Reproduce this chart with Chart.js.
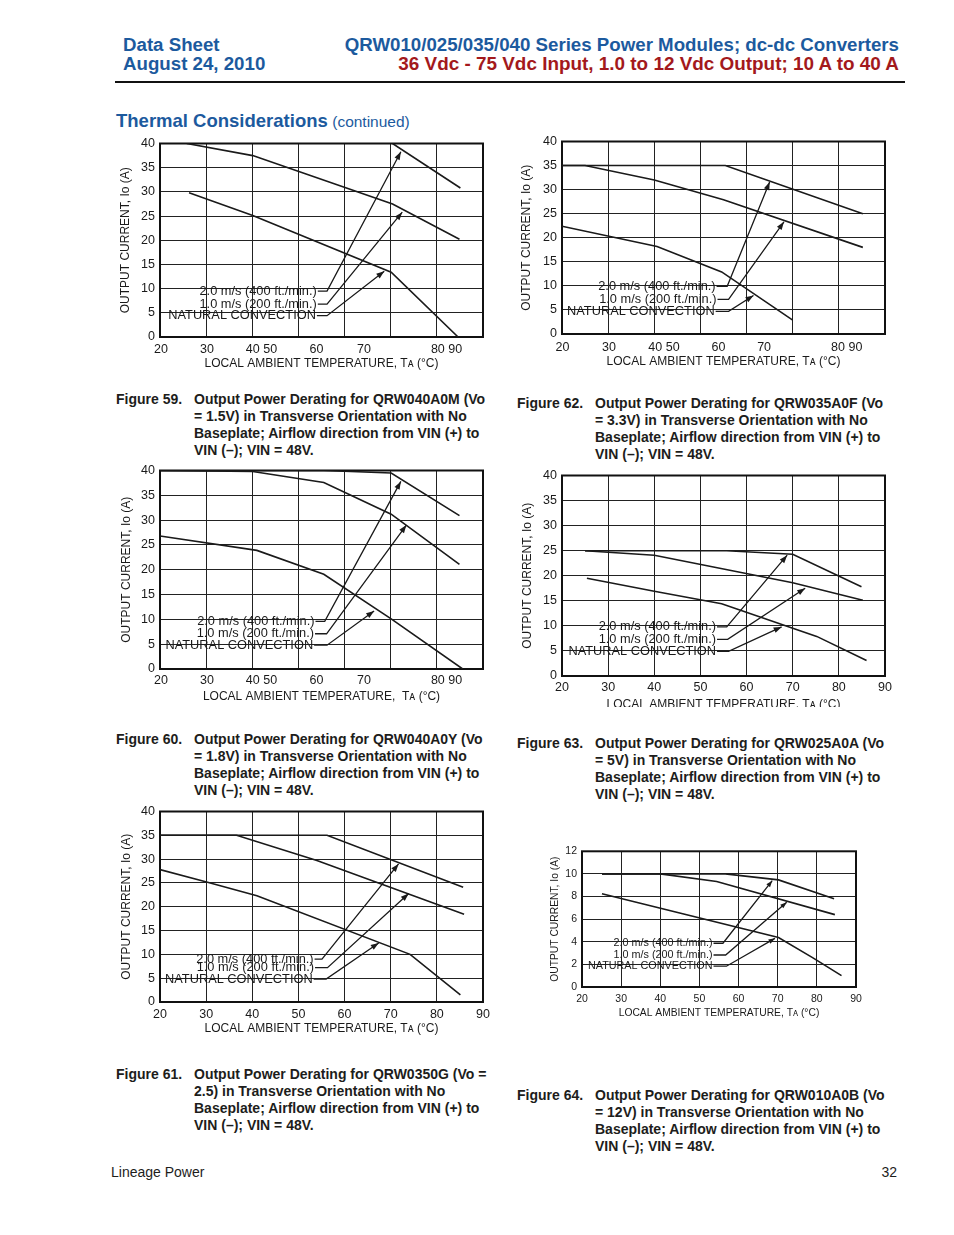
<!DOCTYPE html>
<html>
<head>
<meta charset="utf-8">
<script src="https://cdn.jsdelivr.net/npm/chart.js@4.4.1/dist/chart.umd.min.js"></script>
<style>
  body { margin: 0; background: #fff; }
  #page { position: relative; width: 954px; height: 1235px; overflow: hidden;
          font-family: "Liberation Sans", Arial, Helvetica, sans-serif; color: #1d1d1b; }
  .t { position: absolute; white-space: pre; }
  .hd { font-weight: bold; font-size: 18.7px; line-height: 19px; color: #1c5a9e; }
  .red { color: #a3191c; font-size: 18.9px; }
  .cap { position: absolute; font-weight: bold; font-size: 14px; line-height: 17px; white-space: pre; }
  .cap .b { position: absolute; left: 78px; top: 0; }
  .chartbox { position: absolute; overflow: hidden; }
  .chartbox canvas { display: block; }
</style>
</head>
<body>
<div id="page">
  <div class="t hd" style="left:123px;top:35px;">Data Sheet
August 24, 2010</div>
  <div class="t hd" style="right:55px;top:35px;text-align:right;">QRW010/025/035/040 Series Power Modules; dc-dc Converters
<span class="red">36 Vdc - 75 Vdc Input, 1.0 to 12 Vdc Output; 10 A to 40 A</span></div>
  <div style="position:absolute;left:115px;top:81px;width:790px;height:2px;background:#111;"></div>
  <div class="t" style="left:116px;top:111px;line-height:20px;color:#1c5a9e;"><b style="font-size:18.5px;">Thermal Considerations</b> <span style="font-size:15.5px;">(continued)</span></div>

  <div class="cap" style="left:116px;top:391px;">Figure 59.<div class="b">Output Power Derating for QRW040A0M (Vo
= 1.5V) in Transverse Orientation with No
Baseplate; Airflow direction from VIN (+) to
VIN (–); VIN = 48V.</div></div>
  <div class="cap" style="left:517px;top:395px;">Figure 62.<div class="b">Output Power Derating for QRW035A0F (Vo
= 3.3V) in Transverse Orientation with No
Baseplate; Airflow direction from VIN (+) to
VIN (–); VIN = 48V.</div></div>
  <div class="cap" style="left:116px;top:731px;">Figure 60.<div class="b">Output Power Derating for QRW040A0Y (Vo
= 1.8V) in Transverse Orientation with No
Baseplate; Airflow direction from VIN (+) to
VIN (–); VIN = 48V.</div></div>
  <div class="cap" style="left:517px;top:735px;">Figure 63.<div class="b">Output Power Derating for QRW025A0A (Vo
= 5V) in Transverse Orientation with No
Baseplate; Airflow direction from VIN (+) to
VIN (–); VIN = 48V.</div></div>
  <div class="cap" style="left:116px;top:1066px;">Figure 61.<div class="b">Output Power Derating for QRW0350G (Vo =
2.5) in Transverse Orientation with No
Baseplate; Airflow direction from VIN (+) to
VIN (–); VIN = 48V.</div></div>
  <div class="cap" style="left:517px;top:1087px;">Figure 64.<div class="b">Output Power Derating for QRW010A0B (Vo
= 12V) in Transverse Orientation with No
Baseplate; Airflow direction from VIN (+) to
VIN (–); VIN = 48V.</div></div>

  <div class="t" style="left:111px;top:1164px;font-size:14px;line-height:16px;">Lineage Power</div>
  <div class="t" style="right:57px;top:1164px;font-size:14px;line-height:16px;">32</div>
</div>

<script>
// tick labels
const tempTicksOdd = [20.2, 30.2, 42, 53.9, 64.2, 82.1];
const tempTicks62 = [20.1, 30.2, 42.1, 53.9, 63.8, 81.7];
const tempLabelsOdd = ['20', '30', '40 50', '60', '70', '80 90'];
const tempTicks = [20, 30, 40, 50, 60, 70, 80, 90];
const tempLabels = ['20', '30', '40', '50', '60', '70', '80', '90'];
const airflowLabels = ['2.0 m/s (400 ft./min.)', '1.0 m/s (200 ft./min.)', 'NATURAL CONVECTION'];

// derating curves: [ambient temp °C, output current A]
const fig59_2ms = [[70.4, 40], [85.1, 30.8]];
const fig59_1ms = [[25.8, 40], [40.1, 37.5], [70.4, 27.5], [84.9, 20.2]];
const fig59_nat = [[26.3, 29.8], [40.1, 25.1], [70.1, 13.4], [84.6, 0]];

const fig62_2ms = [[20, 35], [55.4, 35], [85.2, 25.0]];
const fig62_1ms = [[20, 35], [25, 35], [40, 32], [55, 27.9], [85.2, 18.0]];
const fig62_nat = [[20, 22.4], [40.6, 18.2], [54.6, 12.9], [70, 2.9]];

const fig60_2ms = [[20, 40], [55.5, 40], [70.1, 39.5], [84.9, 30.9]];
const fig60_1ms = [[20, 40], [40.1, 39.8], [55.5, 37.6], [70.1, 31.2], [84.9, 21.1]];
const fig60_nat = [[20, 26.8], [41, 23.9], [55.5, 19.1], [70.1, 10.1], [85.6, 0]];

const fig63_2ms = [[25, 25], [55.7, 25], [70, 24.3], [84.9, 17.8]];
const fig63_1ms = [[25, 25], [40, 24.1], [70, 18.6], [85.2, 15.1]];
const fig63_nat = [[25.4, 19.5], [40, 16.9], [54.6, 14.4], [75.2, 7.9], [86, 3.1]];

const fig61_2ms = [[20, 35], [56.2, 35], [85.7, 24.1]];
const fig61_1ms = [[20, 35], [36.6, 35], [54, 29.7], [85.9, 18.4]];
const fig61_nat = [[20, 27.8], [30.1, 25.2], [41, 22.3], [74.2, 10.0], [85.1, 1.5]];

const fig64_2ms = [[25.1, 10], [56.6, 10], [70.2, 9.47], [84.4, 7.8]];
const fig64_1ms = [[25.1, 10], [40, 10], [54.4, 9.33], [84.6, 6.4]];
const fig64_nat = [[25.1, 8.24], [70.2, 4.37], [78.9, 2.6], [86.3, 1.0]];

// leader arrows from the airflow labels: label end, corner, arrow tip
const lead59 = [[[54.2, 9.5], [56.2, 9.5], [72.2, 38.3]], [[54.2, 6.8], [56.2, 6.8], [72.5, 25.8]], [[54.0, 4.4], [56.2, 4.4], [68.6, 13.6]]];
const lead62 = [[[53.5, 9.9], [55.8, 9.9], [65, 31.6]], [[53.7, 7.2], [56.1, 7.2], [68.1, 23.3]], [[53.3, 4.7], [56.1, 4.7], [61.5, 8.0]]];
const lead60 = [[[53.7, 9.6], [55.7, 9.6], [72.2, 37.8]], [[53.6, 7.1], [56.1, 7.1], [73.4, 29.0]], [[53.4, 4.8], [56.2, 4.8], [66.4, 11.7]]];
const lead63 = [[[53.6, 9.8], [55.7, 9.8], [68.8, 24.1]], [[53.6, 7.3], [55.9, 7.3], [72.7, 17.5]], [[53.6, 4.9], [56.1, 4.9], [67.6, 9.8]]];
const lead61 = [[[53.5, 9.0], [55.1, 9.0], [71.7, 29.0]], [[53.6, 7.2], [56.3, 7.2], [73.9, 22.8]], [[53.3, 4.8], [56.0, 4.8], [67.4, 12.4]]];
const lead64 = [[[53.6, 3.87], [56, 3.87], [68.6, 9.4]], [[53.6, 2.83], [56.7, 2.83], [72.3, 7.5]], [[53.6, 1.84], [56.9, 1.84], [69.3, 4.3]]];

const INK = '#1a1a1a';
const FONT = "'Liberation Sans', Arial, 'DejaVu Sans', sans-serif";
Chart.defaults.font.family = FONT;
Chart.defaults.color = INK;

const TA = 'LOCAL AMBIENT TEMPERATURE, Tᴀ (°C)';
const big = { tick: 12.5, title: 12, note: 12.8, arrow: 8 };
const small = { tick: 10.5, title: 10.3, note: 10.8, arrow: 6.5 };

const figs = [
  { box: [160, 140, 483, 337], yMax: 40, yStep: 5, curves: [fig59_2ms, fig59_1ms, fig59_nat], leads: lead59,
    xt: tempTicksOdd, xl: tempLabelsOdd, yTitleX: 125, xTitleDy: 26.5, xTickDy: 11.6, fs: big, xTitle: TA },
  { box: [562, 138, 885, 334], yMax: 40, yStep: 5, curves: [fig62_2ms, fig62_1ms, fig62_nat], leads: lead62,
    xt: tempTicks62, xl: tempLabelsOdd, yTitleX: 526, xTitleDy: 28, xTickDy: 12.7, fs: big, xTitle: TA },
  { box: [160, 467, 483, 669], yMax: 40, yStep: 5, curves: [fig60_2ms, fig60_1ms, fig60_nat], leads: lead60,
    xt: tempTicksOdd, xl: tempLabelsOdd, yTitleX: 126, xTitleDy: 27.5, xTickDy: 11, fs: big,
    xTitle: 'LOCAL AMBIENT TEMPERATURE,  Tᴀ (°C)' },
  { box: [562, 472, 885, 676], yMax: 40, yStep: 5, curves: [fig63_2ms, fig63_1ms, fig63_nat], leads: lead63,
    xt: tempTicks, xl: tempLabels, yTitleX: 527, xTitleDy: 29, xTickDy: 11, fs: big, xTitle: TA, clipY: 707 },
  { box: [160, 808, 483, 1002], yMax: 40, yStep: 5, curves: [fig61_2ms, fig61_1ms, fig61_nat], leads: lead61,
    xt: tempTicks, xl: tempLabels, yTitleX: 126, xTitleDy: 27, xTickDy: 11.6, fs: big, xTitle: TA },
  { box: [582, 849, 856, 987], yMax: 12, yStep: 2, curves: [fig64_2ms, fig64_1ms, fig64_nat], leads: lead64,
    xt: tempTicks, xl: tempLabels, yTitleX: 555, xTitleDy: 26, xTickDy: 10.5, fs: small, xTitle: TA }
];

const framePlugin = {
  id: 'frame',
  beforeDatasetsDraw(chart) {
    const { ctx, chartArea: a } = chart;
    ctx.save();
    ctx.strokeStyle = '#111';
    ctx.lineWidth = 2;
    ctx.strokeRect(a.left, a.top, a.right - a.left, a.bottom - a.top);
    ctx.restore();
  }
};

const notePlugin = {
  id: 'notes',
  afterDatasetsDraw(chart) {
    const ctx = chart.ctx;
    chart.data.datasets.forEach((ds, i) => {
      if (!ds.note) return;
      const pts = chart.getDatasetMeta(i).data;
      const a = pts[pts.length - 2], b = pts[pts.length - 1];
      const ang = Math.atan2(b.y - a.y, b.x - a.x);
      const len = ds.arrowLen, hw = len * 0.36;
      ctx.save();
      ctx.fillStyle = INK;
      ctx.beginPath();
      ctx.moveTo(b.x, b.y);
      ctx.lineTo(b.x - len * Math.cos(ang) + hw * Math.sin(ang), b.y - len * Math.sin(ang) - hw * Math.cos(ang));
      ctx.lineTo(b.x - len * Math.cos(ang) - hw * Math.sin(ang), b.y - len * Math.sin(ang) + hw * Math.cos(ang));
      ctx.closePath();
      ctx.fill();
      ctx.font = ds.noteSize + 'px ' + FONT;
      ctx.textAlign = 'right';
      ctx.textBaseline = 'middle';
      ctx.fillText(ds.note, pts[0].x - 1, pts[0].y);
      ctx.restore();
    });
  }
};

function drawFig(f) {
  const [L, T, R, B] = f.box;
  const tl = f.fs.title * 1.2;
  const W = Math.round(L - f.yTitleX + tl / 2);
  const H = Math.round(f.xTitleDy + tl / 2);
  const padTop = 9, padRight = 16, padBottom = 2;
  const cw = W + (R - L) + padRight;
  const ch = padTop + (B - T) + H + padBottom;

  const wrap = document.createElement('div');
  wrap.className = 'chartbox';
  wrap.style.left = (L - W) + 'px';
  wrap.style.top = (T - padTop) + 'px';
  wrap.style.width = cw + 'px';
  wrap.style.height = (f.clipY ? f.clipY - (T - padTop) : ch) + 'px';
  const cv = document.createElement('canvas');
  cv.width = cw; cv.height = ch;
  cv.style.width = cw + 'px'; cv.style.height = ch + 'px';
  wrap.appendChild(cv);
  document.getElementById('page').appendChild(wrap);

  const datasets = [];
  f.curves.forEach(c => datasets.push({
    data: c.map(p => ({ x: p[0], y: p[1] })),
    borderColor: INK, borderWidth: 1.6, pointRadius: 0, tension: 0, fill: false
  }));
  f.leads.forEach((c, i) => datasets.push({
    data: c.map(p => ({ x: p[0], y: p[1] })),
    borderColor: INK, borderWidth: 1.3, pointRadius: 0, tension: 0, fill: false,
    note: airflowLabels[i], noteSize: f.fs.note, arrowLen: f.fs.arrow
  }));

  new Chart(cv, {
    type: 'line',
    data: { datasets },
    options: {
      responsive: false,
      animation: false,
      devicePixelRatio: 1,
      layout: { padding: { top: padTop, right: padRight, bottom: padBottom, left: 0 } },
      plugins: { legend: { display: false }, tooltip: { enabled: false } },
      scales: {
        x: {
          type: 'linear', position: 'bottom', min: 20, max: 90,
          ticks: { display: false, stepSize: 10 },
          grid: { color: '#222', lineWidth: 1, drawTicks: false },
          border: { display: false },
          afterFit: s => { s.height = 0; }
        },
        xl: {
          type: 'linear', axis: 'x', position: 'bottom', min: 20, max: 90,
          grid: { display: false },
          border: { display: false },
          afterBuildTicks: s => { s.ticks = f.xt.map(v => ({ value: v })); },
          ticks: {
            autoSkip: false, maxRotation: 0, padding: f.xTickDy - 1.2 * f.fs.tick,
            font: { size: f.fs.tick }, color: INK,
            callback: (v, i) => f.xl[i]
          },
          title: { display: true, text: f.xTitle, padding: 0, font: { size: f.fs.title }, color: INK },
          afterFit: s => { s.height = H; }
        },
        y: {
          min: 0, max: f.yMax,
          ticks: { stepSize: f.yStep, padding: 5, font: { size: f.fs.tick }, color: INK },
          grid: { color: '#222', lineWidth: 1, drawTicks: false },
          border: { display: false },
          title: { display: true, text: 'OUTPUT CURRENT, Iᴏ (A)', padding: 0, font: { size: f.fs.title }, color: INK },
          afterFit: s => { s.width = W; }
        }
      }
    },
    plugins: [framePlugin, notePlugin]
  });
}

figs.forEach(drawFig);
</script>
</body>
</html>
